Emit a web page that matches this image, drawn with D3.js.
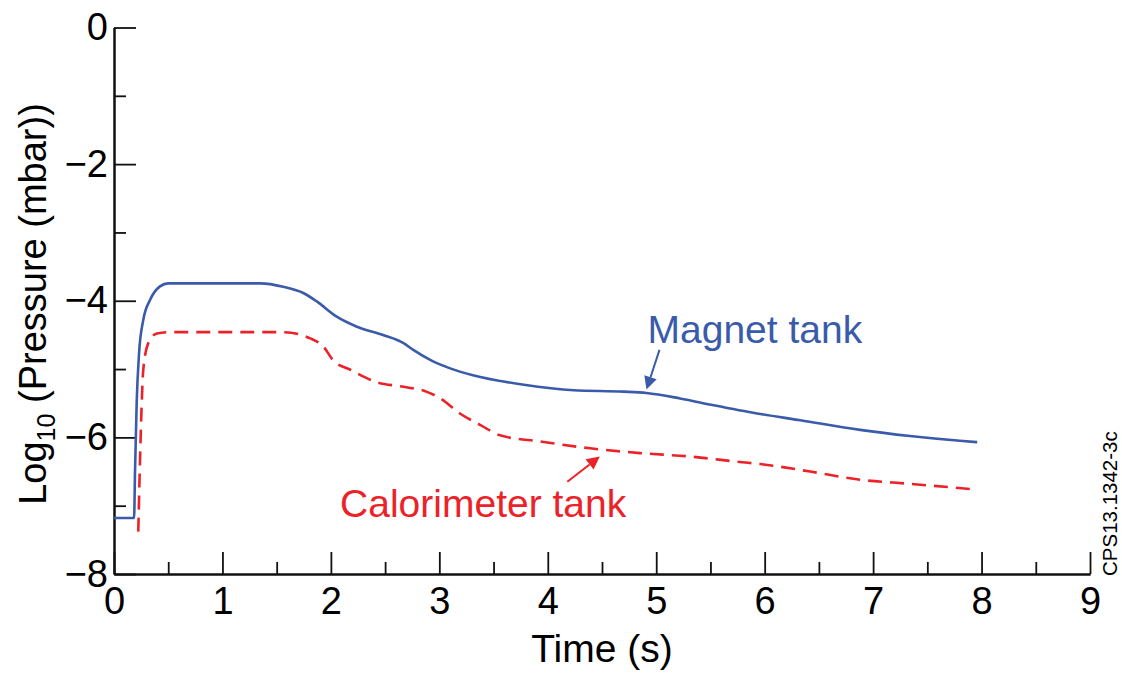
<!DOCTYPE html>
<html>
<head>
<meta charset="utf-8">
<script src="https://cdn.jsdelivr.net/npm/d3@7"></script>
<style>
  html, body { margin: 0; padding: 0; background: #fff; }
  svg { display: block; font-family: "Liberation Sans", Arial, Helvetica, sans-serif; }
</style>
</head>
<body>
<svg id="chart" width="1122" height="673"></svg>
<script>
// ---- data ----
const magnetTime  = [0, 0.185, 0.194, 0.209, 0.231, 0.27, 0.332, 0.424, 0.50, 1.35, 1.56, 1.75, 1.87, 2.05, 2.24, 2.48, 2.67, 2.76, 2.92, 3.10, 3.31, 3.78, 4.24, 4.70, 4.91, 5.22, 5.53, 5.93, 6.33, 6.88, 7.34, 7.80, 7.96];
const magnetLogP  = [-7.18, -7.18, -6.48, -5.50, -4.77, -4.28, -3.99, -3.79, -3.745, -3.745, -3.795, -3.89, -4.01, -4.23, -4.38, -4.50, -4.62, -4.72, -4.87, -4.99, -5.09, -5.23, -5.31, -5.33, -5.35, -5.43, -5.53, -5.65, -5.75, -5.89, -5.98, -6.05, -6.07];
const caloTime    = [0.224, 0.246, 0.27, 0.316, 0.394, 0.50, 1.56, 1.81, 1.93, 2.02, 2.18, 2.42, 2.67, 2.88, 3.01, 3.19, 3.38, 3.56, 3.93, 4.39, 4.85, 5.31, 5.77, 5.96, 6.42, 6.88, 7.34, 7.93];
const caloLogP    = [-7.38, -5.99, -5.01, -4.62, -4.48, -4.46, -4.46, -4.55, -4.67, -4.87, -5.01, -5.19, -5.26, -5.33, -5.43, -5.65, -5.82, -5.97, -6.06, -6.16, -6.23, -6.28, -6.36, -6.39, -6.50, -6.62, -6.68, -6.76];

const xMajorTicks = [0, 1, 2, 3, 4, 5, 6, 7, 8, 9];
const xMinorTicks = [0.5, 1.5, 2.5, 3.5, 4.5, 5.5, 6.5, 7.5, 8.5];
const yMajorTicks = [0, -2, -4, -6, -8];
const yMinorTicks = [-1, -3, -5, -7];

const xTitle = "Time (s)";
const seriesLabels = ["Magnet tank", "Calorimeter tank"];
// annotation anchor points in data units: [labelX, labelY, arrowFromX, arrowFromY, arrowToX, arrowToY]
const magnetNote = [4.92, -4.62, 5.03, -4.72, 4.91, -5.30];
const caloNote   = [2.085, -7.17, 4.18, -6.65, 4.48, -6.28];
const figureId = "CPS13.1342-3c";

// ---- layout ----
const blue = "#3a5baa", red = "#ec2229";
const margin = {left: 114, top: 27.5};
const W = 976, H = 546.5;
const svg = d3.select("#chart");
const g = svg.append("g").attr("transform", `translate(${margin.left},${margin.top})`);

const x = d3.scaleLinear().domain([0, 9]).range([0, W]);
const y = d3.scaleLinear().domain([-8, 0]).range([H, 0]);

const fmt = d => d < 0 ? "\u2212" + Math.abs(d) : String(d);

// axes
function styleAxis(sel) {
  sel.select(".domain").attr("stroke", "#111").attr("stroke-width", 2);
  sel.selectAll(".tick line").attr("stroke", "#111").attr("stroke-width", 1.8);
  sel.selectAll(".tick text").attr("fill", "#000").style("font-size", "38px")
     .style("font-family", "\"Liberation Sans\", Arial, sans-serif");
}
g.append("g").attr("transform", `translate(0,${H})`)
  .call(d3.axisBottom(x).tickValues(xMinorTicks).tickSizeInner(-12).tickSizeOuter(0).tickFormat(""))
  .call(styleAxis);
g.append("g").attr("transform", `translate(0,${H})`)
  .call(d3.axisBottom(x).tickValues(xMajorTicks).tickSizeInner(-22).tickSizeOuter(0).tickPadding(13).tickFormat(fmt))
  .call(styleAxis)
  .call(s => s.selectAll(".tick text").attr("dy", "0.71em"));
g.append("g")
  .call(d3.axisLeft(y).tickValues(yMinorTicks).tickSizeInner(-12).tickSizeOuter(0).tickFormat(""))
  .call(styleAxis);
g.append("g")
  .call(d3.axisLeft(y).tickValues(yMajorTicks).tickSizeInner(-22).tickSizeOuter(0).tickPadding(6).tickFormat(fmt))
  .call(styleAxis);

// lines
const line = d3.line().x(d => x(d[0])).y(d => y(d[1])).curve(d3.curveMonotoneX);
g.append("path").datum(d3.zip(magnetTime, magnetLogP))
  .attr("d", line).attr("fill", "none").attr("stroke", blue).attr("stroke-width", 2.6)
  .attr("stroke-linejoin", "round");
g.append("path").datum(d3.zip(caloTime, caloLogP))
  .attr("d", line).attr("fill", "none").attr("stroke", red).attr("stroke-width", 2.6)
  .attr("stroke-dasharray", "14,8");

// annotations
function arrow(note, color) {
  const x1 = x(note[2]), y1 = y(note[3]), x2 = x(note[4]), y2 = y(note[5]);
  const ang = Math.atan2(y2 - y1, x2 - x1);
  const L = 13, Wd = 6.5;
  const bx = x2 - L * Math.cos(ang), by = y2 - L * Math.sin(ang);
  g.append("line").attr("x1", x1).attr("y1", y1).attr("x2", bx).attr("y2", by)
    .attr("stroke", color).attr("stroke-width", 2);
  const px = -Math.sin(ang), py = Math.cos(ang);
  g.append("path")
    .attr("d", `M${x2},${y2}L${bx + px * Wd},${by + py * Wd}L${bx - px * Wd},${by - py * Wd}Z`)
    .attr("fill", color);
}
g.append("text").attr("x", x(magnetNote[0])).attr("y", y(magnetNote[1]))
  .attr("fill", blue).style("font-size", "39px").text(seriesLabels[0]);
arrow(magnetNote, blue);
g.append("text").attr("x", x(caloNote[0])).attr("y", y(caloNote[1]))
  .attr("fill", red).style("font-size", "39px").text(seriesLabels[1]);
arrow(caloNote, red);

// axis titles
svg.append("text").attr("x", margin.left + W / 2).attr("y", 662)
  .attr("text-anchor", "middle").style("font-size", "39px").attr("fill", "#000").text(xTitle);

const yt = svg.append("text").attr("transform", "translate(46,304) rotate(-90)")
  .attr("text-anchor", "middle").style("font-size", "38px").attr("fill", "#000");
yt.append("tspan").text("Log");
yt.append("tspan").attr("dy", 9).style("font-size", "25px").text("10");
yt.append("tspan").attr("dy", -9).text(" (Pressure (mbar))");

svg.append("text").attr("transform", "translate(1117,576) rotate(-90)")
  .style("font-size", "20.5px").attr("fill", "#000").text(figureId);
</script>
</body>
</html>
